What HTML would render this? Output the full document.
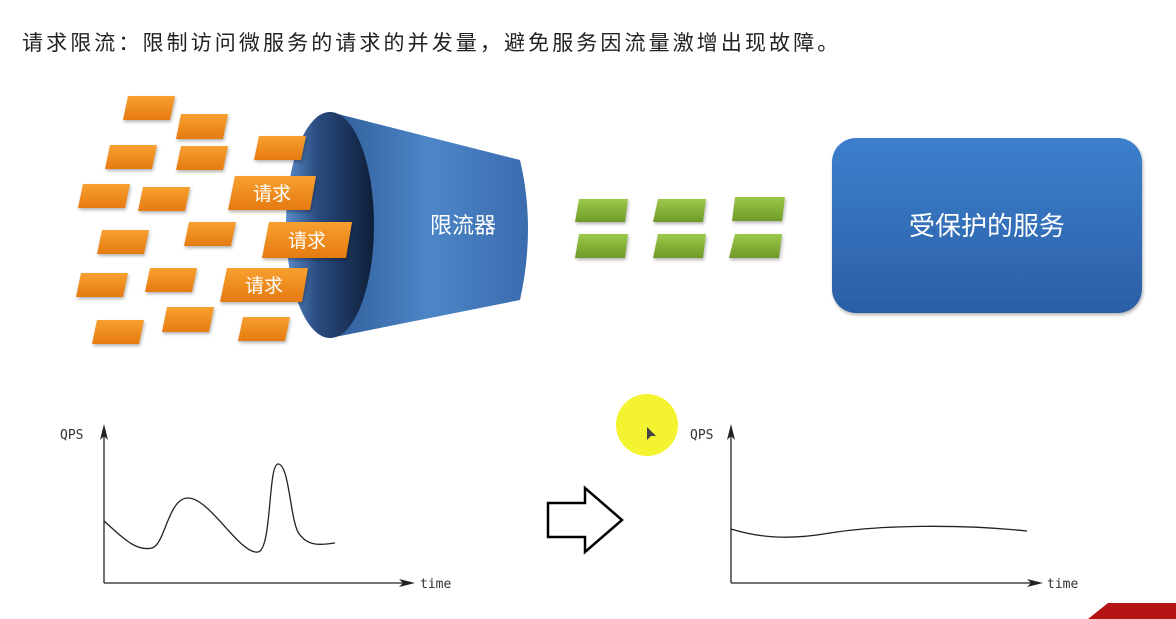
<!DOCTYPE html>
<html><head><meta charset="utf-8"><style>
html,body{margin:0;padding:0;background:#fff;}
svg{display:block}
</style></head><body>
<svg width="1176" height="619" viewBox="0 0 1176 619" xmlns="http://www.w3.org/2000/svg">
<defs>
<linearGradient id="og" x1="0" y1="0" x2="0" y2="1"><stop offset="0" stop-color="#f7a030"/><stop offset="1" stop-color="#e57a10"/></linearGradient>
<linearGradient id="gg" x1="0" y1="0" x2="0" y2="1"><stop offset="0" stop-color="#9cc84a"/><stop offset="1" stop-color="#6f9a28"/></linearGradient>
<linearGradient id="bg" x1="0" y1="0" x2="0" y2="1"><stop offset="0" stop-color="#3c7fcc"/><stop offset="1" stop-color="#2b5fa6"/></linearGradient>
<linearGradient id="fb" x1="0" y1="0" x2="1" y2="0"><stop offset="0" stop-color="#2f5c98"/><stop offset="0.5" stop-color="#4d86c8"/><stop offset="1" stop-color="#3a6cae"/></linearGradient>
<linearGradient id="fe" x1="0" y1="0" x2="1" y2="0"><stop offset="0" stop-color="#5a8ccc"/><stop offset="0.35" stop-color="#2a4c80"/><stop offset="1" stop-color="#0e1e38"/></linearGradient>
<filter id="sh" x="-20%" y="-20%" width="140%" height="150%"><feDropShadow dx="1" dy="2" stdDeviation="1.5" flood-opacity="0.3"/></filter>
</defs>
<text x="22" y="50" font-family="Liberation Sans, Noto Sans CJK SC, sans-serif" font-size="21" letter-spacing="3.1" fill="#222">请求限流：限制访问微服务的请求的并发量，避免服务因流量激增出现故障。</text>

<path d="M330,112 L520,160 Q536,228 520,300 L330,338 Z" fill="url(#fb)"/>
<ellipse cx="330" cy="225" rx="44" ry="113" fill="url(#fe)"/>
<text x="463" y="233" font-family="Liberation Sans, Noto Sans CJK SC, sans-serif" font-size="22" fill="#fff" text-anchor="middle">限流器</text>

<g fill="url(#og)" filter="url(#sh)">
<polygon points="128,96 175,96 170,120 123,120"/>
<polygon points="181,114 228,114 223,139 176,139"/>
<polygon points="110,145 157,145 152,169 105,169"/>
<polygon points="181,146 228,146 223,170 176,170"/>
<polygon points="259,136 306,136 301,160 254,160"/>
<polygon points="83,184 130,184 125,208 78,208"/>
<polygon points="143,187 190,187 185,211 138,211"/>
<polygon points="102,230 149,230 144,254 97,254"/>
<polygon points="189,222 236,222 231,246 184,246"/>
<polygon points="81,273 128,273 123,297 76,297"/>
<polygon points="150,268 197,268 192,292 145,292"/>
<polygon points="97,320 144,320 139,344 92,344"/>
<polygon points="167,307 214,307 209,332 162,332"/>
<polygon points="243,317 290,317 285,341 238,341"/>
<polygon points="235,176 316,176 310,210 228,210"/>
<polygon points="269,222 352,222 346,258 262,258"/>
<polygon points="227,268 308,268 302,302 220,302"/>
</g>
<g font-family="Liberation Sans, Noto Sans CJK SC, sans-serif" font-size="19" fill="#fff" text-anchor="middle">
<text x="272" y="200">请求</text>
<text x="307" y="247">请求</text>
<text x="264" y="292">请求</text>
</g>

<g fill="url(#gg)" filter="url(#sh)">
<polygon points="579,199 628,199 625,222 575,222"/>
<polygon points="658,199 706,199 703,222 653,222"/>
<polygon points="735,197 785,197 782,221 732,221"/>
<polygon points="579,234 628,234 625,258 575,258"/>
<polygon points="658,234 706,234 703,258 653,258"/>
<polygon points="735,234 782,234 779,258 729,258"/>
</g>

<rect x="832" y="138" width="310" height="175" rx="24" fill="url(#bg)" filter="url(#sh)"/>
<text x="987" y="235" font-family="Liberation Sans, Noto Sans CJK SC, sans-serif" font-size="26" fill="#fff" text-anchor="middle">受保护的服务</text>

<g stroke="#222" stroke-width="1.3" fill="none">
<line x1="104" y1="583" x2="104" y2="430"/>
<line x1="104" y1="583" x2="408" y2="583"/>
<path d="M104,521 C120,535 135,552 152,548 C165,545 168,498 188,498 C210,498 240,555 258,552 C272,550 268,464 278,464 C290,464 290,525 300,535 C310,548 325,544 335,543"/>
<line x1="731" y1="583" x2="731" y2="430"/>
<line x1="731" y1="583" x2="1036" y2="583"/>
<path d="M731,529 C760,538 790,540 830,533 C880,525 960,524 1027,531"/>
</g>
<g fill="#222">
<polygon points="104,424 100,440 104,436 108,440"/>
<polygon points="415,583 399,579 403,583 399,587"/>
<polygon points="731,424 727,440 731,436 735,440"/>
<polygon points="1043,583 1027,579 1031,583 1027,587"/>
</g>
<g font-family="DejaVu Sans Mono, Liberation Mono, monospace" font-size="13" fill="#333">
<text x="60" y="439">QPS</text>
<text x="420" y="588">time</text>
<text x="690" y="439">QPS</text>
<text x="1047" y="588">time</text>
</g>

<polygon points="548,503 585,503 585,488 622,520 585,552 585,537 548,537" fill="#fff" stroke="#000" stroke-width="2.5"/>

<circle cx="647" cy="425" r="31" fill="#f2f218" opacity="0.9"/>
<polygon points="647,427 647,440 651,436 656,436" fill="#444"/>

<polygon points="1088,619 1108,603 1176,603 1176,619" fill="#b51414"/>
</svg>
</body></html>
